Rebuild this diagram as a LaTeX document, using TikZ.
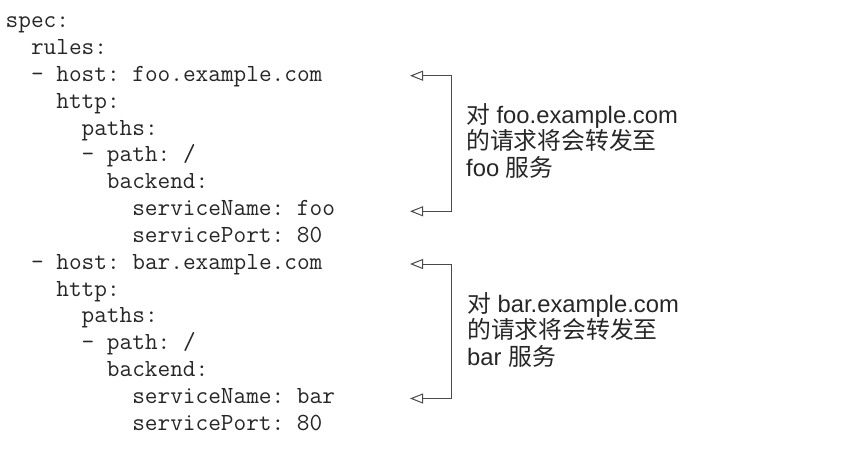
\documentclass[tikz,border=0pt]{standalone}
\usepackage{fontspec}
\setmainfont{Liberation Sans}
\newfontfamily\cjk{Noto Sans CJK SC}
\usetikzlibrary{arrows.meta}
\frenchspacing
\definecolor{ink}{HTML}{262626}
\definecolor{wire}{HTML}{4A4A4A}
\tikzset{
  codeline/.style={anchor=base west, inner sep=0pt, text=ink,
    font=\ttfamily\fontsize{24.6}{26.8}\selectfont},
  noteline/.style={anchor=base west, inner sep=0pt, text=ink,
    font=\fontsize{23.8}{26.7}\selectfont},
  bracket/.style={draw=wire, line width=1pt,
    {Triangle[open, length=13pt, width=10pt]}-{Triangle[open, length=13pt, width=10pt]}}
}
\begin{document}
\begin{tikzpicture}[x=1pt, y=-1pt]
\useasboundingbox (0,0) rectangle (859,449);
\def\cw{12.66}
\def\xo{5.5}
% code lines
\node[codeline] (l0)  at ({\xo+0*\cw},  28.0) {spec:};
\node[codeline] (l1)  at ({\xo+2*\cw},  54.8) {rules:};
\node[codeline] (l2)  at ({\xo+2*\cw},  81.6) {- host: foo.example.com};
\node[codeline] (l3)  at ({\xo+4*\cw}, 108.4) {http:};
\node[codeline] (l4)  at ({\xo+6*\cw}, 135.2) {paths:};
\node[codeline] (l5)  at ({\xo+6*\cw}, 162.0) {- path: /};
\node[codeline] (l6)  at ({\xo+8*\cw}, 188.8) {backend:};
\node[codeline] (l7)  at ({\xo+10*\cw}, 215.6) {serviceName: foo};
\node[codeline] (l8)  at ({\xo+10*\cw}, 242.4) {servicePort: 80};
\node[codeline] (l9)  at ({\xo+2*\cw}, 269.2) {- host: bar.example.com};
\node[codeline] (l10) at ({\xo+4*\cw}, 296.0) {http:};
\node[codeline] (l11) at ({\xo+6*\cw}, 322.8) {paths:};
\node[codeline] (l12) at ({\xo+6*\cw}, 349.6) {- path: /};
\node[codeline] (l13) at ({\xo+8*\cw}, 376.4) {backend:};
\node[codeline] (l14) at ({\xo+10*\cw}, 403.2) {serviceName: bar};
\node[codeline] (l15) at ({\xo+10*\cw}, 430.0) {servicePort: 80};
% bracket 1
\coordinate (t1) at (410, 75.7);
\coordinate (c1) at (451.5, 75.7);
\coordinate (c2) at (451.5, 211.3);
\coordinate (t2) at (410, 211.3);
\draw[bracket] (t1) -- (c1) -- (c2) -- (t2);
% bracket 2
\coordinate (t3) at (410, 264.0);
\coordinate (c3) at (451.5, 264.0);
\coordinate (c4) at (451.5, 398.5);
\coordinate (t4) at (410, 398.5);
\draw[bracket] (t3) -- (c3) -- (c4) -- (t4);
% notes
\node[noteline] (n1) at (466, 123.3) {{\cjk 对} foo.example.com};
\node[noteline] (n2) at (466, 150.0) {\cjk 的请求将会转发至};
\node[noteline] (n3) at (466, 176.7) {foo {\cjk 服务}};
\node[noteline] (m1) at (467, 312.3) {{\cjk 对} bar.example.com};
\node[noteline] (m2) at (467, 338.7) {\cjk 的请求将会转发至};
\node[noteline] (m3) at (467, 365.0) {bar {\cjk 服务}};
\end{tikzpicture}
\end{document}
